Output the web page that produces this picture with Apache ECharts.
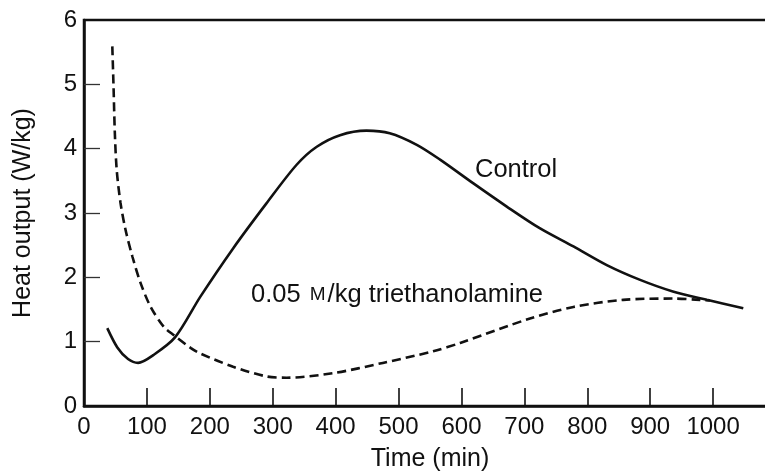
<!DOCTYPE html>
<html>
<head>
<meta charset="utf-8">
<script src="https://cdn.jsdelivr.net/npm/echarts@6/dist/echarts.min.js"></script>
<style>
html,body{margin:0;padding:0;background:#fff;}
#chart{width:765px;height:472px;}
</style>
</head>
<body>
<div id="chart"></div>
<script>
// ---- data ----
const controlTime = [37, 53, 70, 86, 110, 145, 185, 237, 290, 338, 370, 407, 449, 486, 529, 566, 619, 672, 725, 778, 831, 884, 936, 990, 1048];
const controlHeat = [1.21, 0.91, 0.73, 0.67, 0.79, 1.07, 1.70, 2.45, 3.15, 3.75, 4.03, 4.21, 4.28, 4.24, 4.06, 3.83, 3.46, 3.10, 2.76, 2.48, 2.19, 1.96, 1.78, 1.65, 1.52];

const teaTime = [45, 47, 49, 52, 58, 66, 77, 90, 106, 127, 143, 170, 184, 237, 290, 322, 396, 475, 555, 598, 709, 778, 857, 936, 979, 995];
const teaHeat = [5.59, 4.95, 4.25, 3.67, 3.16, 2.74, 2.32, 1.91, 1.54, 1.23, 1.10, 0.90, 0.82, 0.61, 0.46, 0.44, 0.51, 0.67, 0.85, 0.98, 1.36, 1.54, 1.65, 1.67, 1.65, 1.64];

const xTickValues = [100, 200, 300, 400, 500, 600, 700, 800, 900, 1000];
const xLabelValues = [0, 100, 200, 300, 400, 500, 600, 700, 800, 900, 1000];
const yTickValues = [1, 2, 3, 4, 5];
const yLabelValues = [0, 1, 2, 3, 4, 5, 6];

const xTitle = 'Time (min)';
const yTitle = 'Heat output (W/kg)';
const controlLabel = 'Control';

// ---- chart ----
const FONT = "'Liberation Sans', Arial, Helvetica, sans-serif";
const INK = '#111';

const zip = (a, b) => a.map((v, i) => [v, b[i]]);

const chart = echarts.init(document.getElementById('chart'), null, {renderer: 'canvas'});
chart.setOption({
  backgroundColor: '#ffffff',
  animation: false,
  grid: {
    left: 84, top: 20, bottom: 66, right: -11,
    outerBoundsMode: 'none',
    show: true, borderColor: INK, borderWidth: 2.5, containLabel: false
  },
  xAxis: {
    type: 'value', min: 0, max: 1100, interval: 100,
    name: xTitle, nameLocation: 'middle', nameGap: 41,
    nameTextStyle: {fontFamily: FONT, fontSize: 25, color: INK},
    axisLine: {show: true, lineStyle: {color: INK, width: 2.5}},
    axisTick: {show: true, inside: true, length: 18, customValues: xTickValues,
               lineStyle: {color: INK, width: 1.6}},
    axisLabel: {show: true, margin: 9, customValues: xLabelValues,
                formatter: v => String(v),
                fontFamily: FONT, fontSize: 24, color: INK},
    splitLine: {show: false}
  },
  yAxis: {
    type: 'value', min: 0, max: 6, interval: 1,
    name: yTitle, nameLocation: 'middle', nameGap: 48, nameRotate: 90,
    nameTextStyle: {fontFamily: FONT, fontSize: 25, color: INK},
    axisLine: {show: true, lineStyle: {color: INK, width: 2.5}},
    axisTick: {show: true, inside: true, length: 16, customValues: yTickValues,
               lineStyle: {color: '#333', width: 1.3}},
    axisLabel: {show: true, margin: 7, customValues: yLabelValues,
                formatter: v => String(v),
                fontFamily: FONT, fontSize: 24, color: INK},
    splitLine: {show: false}
  },
  series: [
    {
      name: 'Control', type: 'line', data: zip(controlTime, controlHeat),
      smooth: 0.3, showSymbol: false, symbol: 'none',
      lineStyle: {color: INK, width: 2.6, type: 'solid'}
    },
    {
      name: '0.05 M/kg triethanolamine', type: 'line', data: zip(teaTime, teaHeat),
      smooth: 0.3, showSymbol: false, symbol: 'none',
      lineStyle: {color: INK, width: 2.6, type: [9, 5]}
    }
  ],
  graphic: [
    {
      type: 'text', left: 475, top: 157,
      style: {text: controlLabel, fontFamily: FONT, fontSize: 25.5, fill: INK}
    },
    {
      type: 'text', left: 251, top: 282,
      style: {
        text: '{n|0.05 }{sm|M}{n|/kg triethanolamine}',
        fontFamily: FONT, fontSize: 25.5, fill: INK,
        rich: {
          n: {fontFamily: FONT, fontSize: 25.5, lineHeight: 28, fill: INK, verticalAlign: 'middle'},
          sm: {fontFamily: FONT, fontSize: 19, lineHeight: 28, fill: INK, verticalAlign: 'middle', padding: [0, 2, 0, 2]}
        }
      }
    }
  ]
});
</script>
</body>
</html>
